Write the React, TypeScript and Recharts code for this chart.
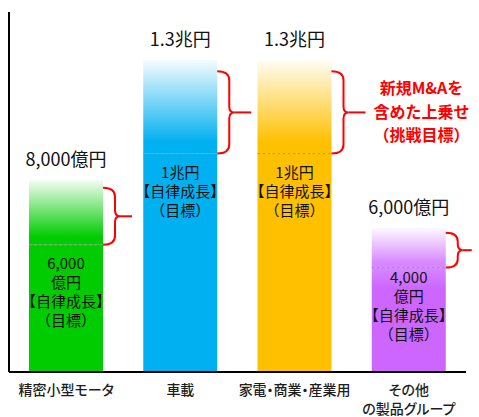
import React from "react";
import { BarChart, Bar, XAxis, YAxis } from "recharts";

const categories = ["精密小型モータ", "車載", "家電・商業・産業用", "その他\nの製品グループ"];
const totalValues = [8000, 13000, 13000, 6000];
const autonomousValues = [5300, 9100, 9100, 4350];
const topLabels = ["8,000億円", "1.3兆円", "1.3兆円", "6,000億円"];
const innerLabels = [
  ["6,000", "億円", "【自律成長】", "（目標）"],
  ["1兆円", "【自律成長】", "（目標）"],
  ["1兆円", "【自律成長】", "（目標）"],
  ["4,000", "億円", "【自律成長】", "（目標）"],
];
const annotationLines = ["新規M&Aを", "含めた上乗せ", "（挑戦目標）"];
const annotatedIndex = 2;

const colors = ["#00CC00", "#00B0F0", "#FFC000", "#CC66FF"];
const fadeEnd = [1, 1, 1, 0.78];
const innerOffsets = [19, 19, 19, 10];
const braceTails = [12, 17, 17, 9];
const FONT = '"Noto Sans CJK JP", "Noto Sans", sans-serif';

const data = categories.map((name, idx) => ({
  idx,
  name,
  base: autonomousValues[idx],
  extra: totalValues[idx] - autonomousValues[idx],
}));

const BaseShape = (props: any) => {
  const { x, y, width, height, payload } = props;
  const i = payload.idx;
  const lines = innerLabels[i];
  const cx = x + width / 2;
  const first = y + innerOffsets[i];
  return (
    <g>
      <rect x={x} y={y} width={width} height={height} fill={`url(#baseGrad${i})`} />
      {lines.map((t, k) => (
        <text
          key={k}
          x={cx}
          y={first + k * 19 + 5.5}
          textAnchor="middle"
          fontFamily={FONT}
          fontSize={15}
          fill="#111"
        >
          {t}
        </text>
      ))}
    </g>
  );
};

const TopShape = (props: any) => {
  const { x, y, width, height, payload } = props;
  const i = payload.idx;
  const x0 = x + width;
  const yB = y + height;
  const yT = y + height * 0.12;
  const xv = x0 + 12;
  const ym = (yT + yB) / 2;
  const h = yB - yT;
  const r = Math.min(9, h / 4);
  const r2 = Math.min(6, h / 6);
  const tipX = xv + 5;
  const brace = `M ${x0} ${yT} Q ${xv} ${yT} ${xv} ${yT + r} L ${xv} ${ym - r2} Q ${xv} ${ym} ${tipX} ${ym} Q ${xv} ${ym} ${xv} ${ym + r2} L ${xv} ${yB - r} Q ${xv} ${yB} ${x0} ${yB}`;
  const tailEnd = tipX + braceTails[i];
  return (
    <g>
      <rect x={x} y={y} width={width} height={height} fill={`url(#topGrad${i})`} />
      <line x1={x} x2={x0} y1={yB} y2={yB} stroke="#999" strokeWidth={1} strokeDasharray="3 2" />
      <path d={brace} fill="none" stroke="#FF0000" strokeWidth={2} />
      <line x1={tipX} x2={tailEnd} y1={ym} y2={ym} stroke="#FF0000" strokeWidth={2} />
      <text
        x={x + width / 2}
        y={y - 14.5}
        textAnchor="middle"
        fontFamily={FONT}
        fontSize={18}
        fill="#111"
      >
        {topLabels[i]}
      </text>
      {i === annotatedIndex &&
        annotationLines.map((t, k) => (
          <text
            key={k}
            x={tailEnd + 56}
            y={ym + (k - 1) * 23.5 + 5.5}
            textAnchor="middle"
            fontFamily={FONT}
            fontSize={16}
            fontWeight="bold"
            fill="#FF0000"
          >
            {t}
          </text>
        ))}
    </g>
  );
};

const CategoryTick = (props: any) => {
  const { x, y, payload } = props;
  const lines = String(payload.value).split("\n");
  return (
    <g>
      {lines.map((t, k) => (
        <text
          key={k}
          x={x}
          y={y + 15 + k * 19}
          textAnchor="middle"
          fontFamily={FONT}
          fontSize={14}
          fontWeight={500}
          fill="#1e1e1e"
          style={{ fontFeatureSettings: '"palt"' }}
        >
          {t}
        </text>
      ))}
    </g>
  );
};

export default function App() {
  return (
    <div style={{ position: "absolute", left: 0, top: 0, width: 479, height: 417, background: "#fff" }}>
      <BarChart
        width={479}
        height={417}
        data={data}
        margin={{ top: 12, right: 13, left: 0, bottom: 0 }}
        barSize={74}
      >
        <defs>
          {colors.map((c, i) => (
            <linearGradient key={`t${i}`} id={`topGrad${i}`} x1="0" y1="0" x2="0" y2="1">
              <stop offset="0" stopColor={c} stopOpacity={0.04} />
              <stop offset="0.88" stopColor={c} stopOpacity={fadeEnd[i]} />
              <stop offset="1" stopColor={c} stopOpacity={fadeEnd[i]} />
            </linearGradient>
          ))}
          {colors.map((c, i) => (
            <linearGradient key={`b${i}`} id={`baseGrad${i}`} x1="0" y1="0" x2="0" y2="1">
              <stop offset="0" stopColor={c} stopOpacity={fadeEnd[i]} />
              <stop offset="0.2" stopColor={c} stopOpacity={1} />
              <stop offset="1" stopColor={c} stopOpacity={1} />
            </linearGradient>
          ))}
        </defs>
        <XAxis
          dataKey="name"
          axisLine={{ stroke: "#000", strokeWidth: 2 }}
          tickLine={false}
          tick={<CategoryTick />}
          height={45}
          interval={0}
        />
        <YAxis
          domain={[0, 15000]}
          width={9}
          tick={false}
          tickLine={false}
          axisLine={{ stroke: "#000", strokeWidth: 2 }}
        />
        <Bar dataKey="base" stackId="a" isAnimationActive={false} shape={<BaseShape />} />
        <Bar dataKey="extra" stackId="a" isAnimationActive={false} shape={<TopShape />} />
      </BarChart>
    </div>
  );
}
